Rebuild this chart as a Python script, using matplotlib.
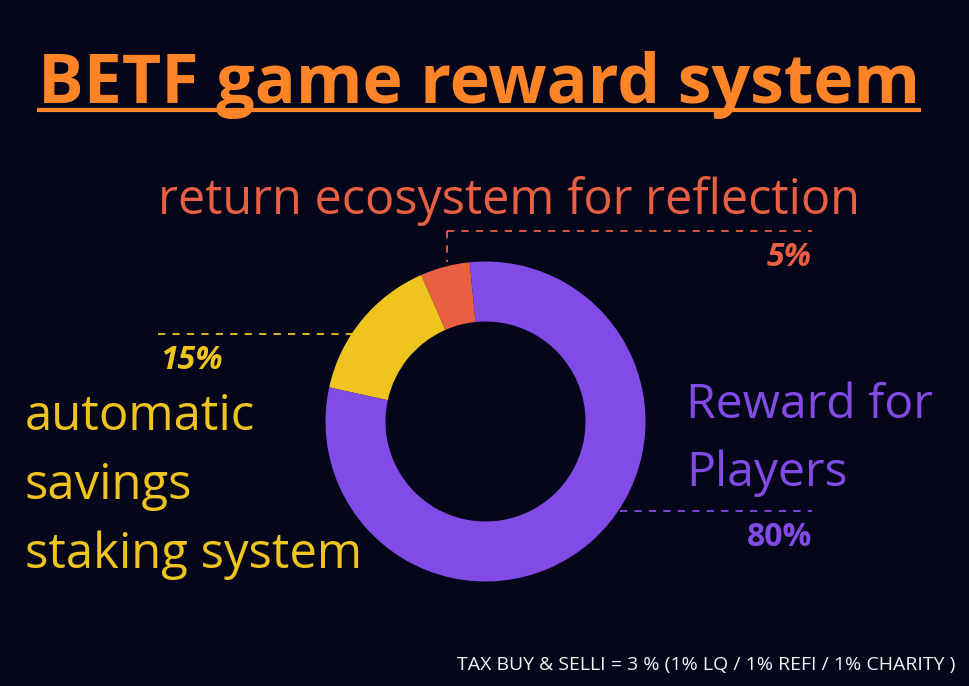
import matplotlib.pyplot as plt

# data
labels = ['return ecosystem for reflection', 'automatic savings staking system', 'Reward for Players']
shares = [5, 15, 80]
colors = ['#E95F41', '#F0C41F', '#824BE6']
pct_labels = ['5%', '15%', '80%']

title = 'BETF game reward system'
footnote = 'TAX BUY & SELLI = 3 % (1% LQ / 1% REFI / 1% CHARITY )'

BG = '#05061A'
W, H = 970, 686
FONT = 'Open Sans'

fig = plt.figure(figsize=(W / 100, H / 100), dpi=100, facecolor=BG)

# donut, placed in pixel box (center 485.5, 421.5, radius 160)
cx, cy, r = 485.5, 421.5, 160
ax_pie = fig.add_axes([(cx - r) / W, (H - cy - r) / H, 2 * r / W, 2 * r / H])
ax_pie.pie(shares, colors=colors, startangle=95.7, counterclock=True, radius=1,
           wedgeprops=dict(width=0.375, linewidth=0))
ax_pie.set_xlim(-1, 1)
ax_pie.set_ylim(-1, 1)
ax_pie.set_facecolor(BG)
ax_pie.axis('off')

# overlay for text in pixel coordinates
ax = fig.add_axes([0, 0, 1, 1], zorder=-1)
ax.set_xlim(0, W)
ax.set_ylim(H, 0)
ax.set_facecolor(BG)
ax.axis('off')

ax.text(479, 103, title, color='#FF8427', fontsize=49, fontweight='bold',
        family=FONT, ha='center', va='baseline')
ax.plot([37, 921], [110, 110], color='#FF8427', lw=3, solid_capstyle='butt')

# return ecosystem label
ax.text(509, 214, labels[0], color=colors[0], fontsize=35, family=FONT,
        ha='center', va='baseline')
ax.plot([447, 812], [231, 231], color=colors[0], lw=1.3, ls=(0, (4, 4)))
ax.plot([447, 447], [231, 262], color=colors[0], lw=1.3, ls=(0, (4, 4)))
ax.text(812, 266, pct_labels[0], color=colors[0], fontsize=23, fontweight='bold',
        style='italic', family=FONT, ha='right', va='baseline')

# staking label
ax.plot([158, 356], [334, 334], color=colors[1], lw=1.3, ls=(0, (4, 4)))
ax.text(160, 369, pct_labels[1], color=colors[1], fontsize=23, fontweight='bold',
        style='italic', family=FONT, ha='left', va='baseline')
for i, line in enumerate(['automatic', 'savings', 'staking system']):
    ax.text(25, 430 + i * 69, line, color=colors[1], fontsize=35.3, family=FONT,
            ha='left', va='baseline')

# players label
for i, line in enumerate(['Reward for', 'Players']):
    ax.text(686, 418 + i * 68, line, color=colors[2], fontsize=34.7, family=FONT,
            ha='left', va='baseline')
ax.plot([620, 812], [511, 511], color=colors[2], lw=1.3, ls=(0, (4, 4)))
ax.text(812, 546, pct_labels[2], color=colors[2], fontsize=23, fontweight='bold',
        family=FONT, ha='right', va='baseline')

ax.text(955, 670, footnote, color='#F2F2F2', fontsize=14, family=FONT,
        ha='right', va='baseline')

fig.savefig('out.png', dpi=100, facecolor=BG)
